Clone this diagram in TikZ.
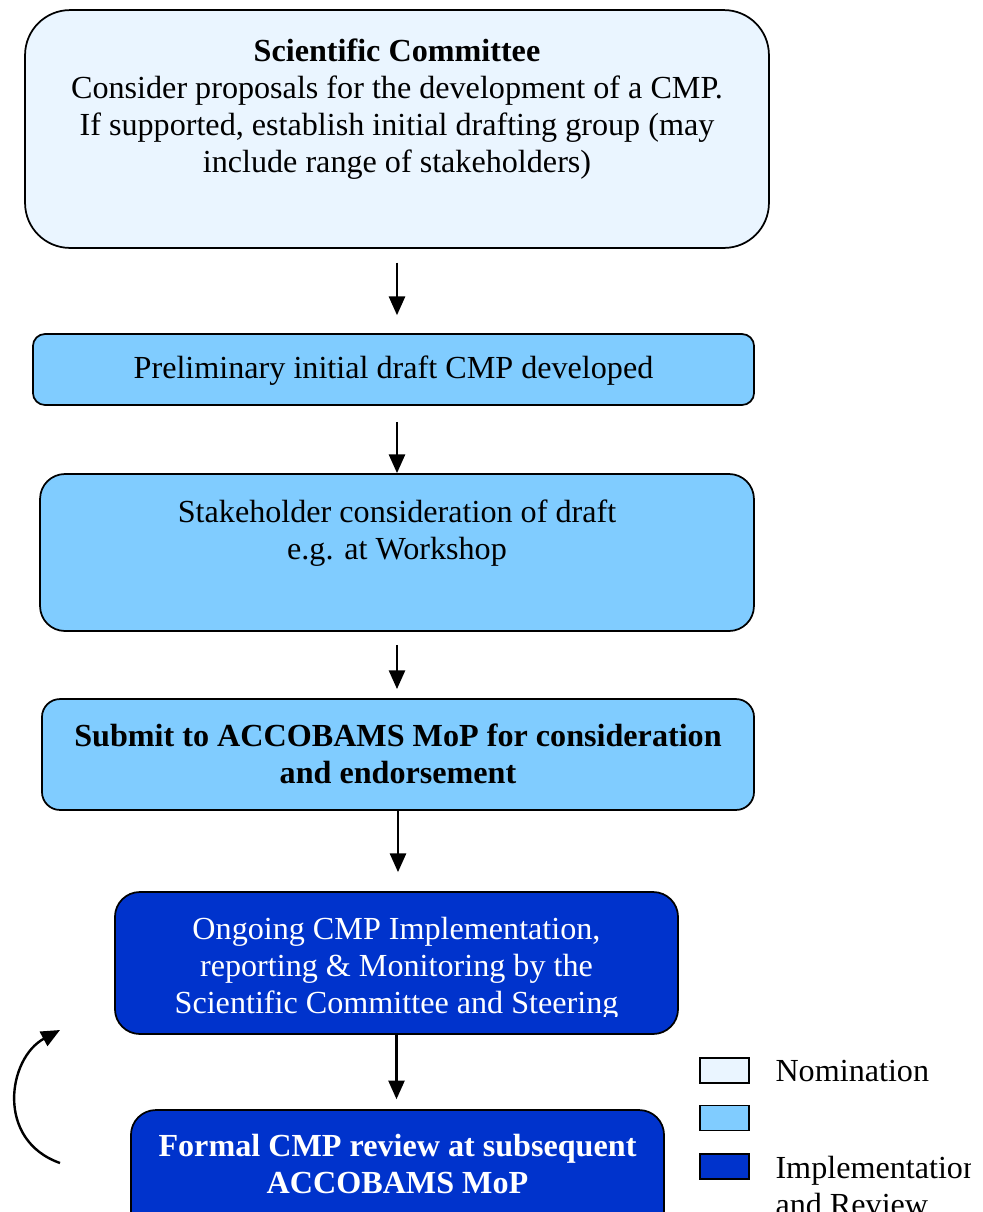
\documentclass[tikz,border=0pt]{standalone}
\usepackage{fontspec}
\setmainfont{Liberation Serif}
\usetikzlibrary{arrows.meta}

\definecolor{nomfill}{HTML}{EAF5FF}
\definecolor{devfill}{HTML}{80CCFF}
\definecolor{impfill}{HTML}{0033CC}

\begin{document}
\begin{tikzpicture}[x=0.3733pt,y=-0.3733pt,
    font=\fontsize{12pt}{13.8pt}\selectfont,
    box/.style={draw,line width=0.65pt,inner sep=0pt},
    txt/.style={align=center,inner sep=0pt},
    arr/.style={line width=0.9pt,-{Triangle[length=7pt,width=6pt]}},
    key/.style={draw,line width=0.65pt,minimum width=18.3pt,minimum height=9.3pt,inner sep=0pt}]
		\useasboundingbox (0,0) rectangle (982,1212);
		\clip (0,0) rectangle (970,1212);

		% Boxes
		\node[box,fill=nomfill,rounded corners=16.8pt,minimum width=277.7pt,minimum height=88.8pt] (sc) at (397,129) {};
		\node[txt] (sc-text) at (397,109) {\textbf{Scientific Committee}\\Consider proposals for the development of a CMP.\\If supported, establish initial drafting group (may\\include range of stakeholders)};
		\node[box,fill=devfill,rounded corners=4.5pt,minimum width=269.2pt,minimum height=26.5pt] (draft) at (393.5,369.5) {};
		\node[txt] (draft-text) at (393.5,371) {Preliminary initial draft CMP developed};
		\node[box,fill=devfill,rounded corners=9.3pt,minimum width=266.5pt,minimum height=58.6pt] (stake) at (397,552.5) {};
		\node[txt] (stake-text) at (397,533) {Stakeholder consideration of draft\\e.g. at Workshop};
		\node[box,fill=devfill,rounded corners=6.7pt,minimum width=265.8pt,minimum height=41.4pt] (mop) at (398,754.5) {};
		\node[txt,font=\fontsize{12pt}{13.8pt}\selectfont\bfseries] (mop-text) at (398,754) {Submit to ACCOBAMS MoP for consideration\\and endorsement};
		\node[box,fill=impfill,rounded corners=9.3pt,minimum width=210.2pt,minimum height=53pt] (impl) at (396.5,963) {};
		\begin{scope}
			\clip (115,892) rectangle (678,1016);
			\node[txt,text=white] (impl-text) at (396.5,969) {Ongoing CMP Implementation,\\reporting \& Monitoring by the\\Scientific Committee and Steering};
		\end{scope}
		\node[box,fill=impfill,rounded corners=9.3pt,minimum width=199pt,minimum height=48.5pt] (review) at (397.5,1175) {};
		\node[txt,text=white,font=\fontsize{12pt}{13.8pt}\selectfont\bfseries] (review-text) at (397.5,1164) {Formal CMP review at subsequent\\ACCOBAMS MoP};

		% Arrows
		\draw[arr,shorten <=5.2pt,shorten >=6.7pt] (sc.south) -- (sc.south |- draft.north);
		\draw[arr,shorten <=6pt] (draft.south -| stake.north) -- (stake.north);
		\draw[arr,shorten <=4.9pt,shorten >=3.4pt] (stake.south) -- (stake.south |- mop.north);
		\draw[arr,shorten >=7.1pt] (mop.south) -- (mop.south |- impl.north);
		\draw[arr,shorten >=3.7pt] (impl.south) -- (impl.south |- review.north);

		% Loop back
		\coordinate (loop-start) at (60,1163);
		\coordinate (loop-end) at (60,1030);
		\draw[arr] (loop-start) .. controls (-5,1140) and (8,1058) .. (loop-end);

		% Legend
		\node[key,fill=nomfill] (key-nom) at (724.5,1070.5) {};
		\node[key,fill=devfill] (key-dev) at (724.5,1118) {};
		\node[key,fill=impfill] (key-imp) at (724.5,1166.5) {};
		\node[anchor=west,inner sep=0pt] (nom-label) at (775,1071) {Nomination};
		\node[anchor=west,align=left,inner sep=0pt] (imp-label) at (775,1186) {Implementation\\and Review};
	\end{tikzpicture}
\end{document}
